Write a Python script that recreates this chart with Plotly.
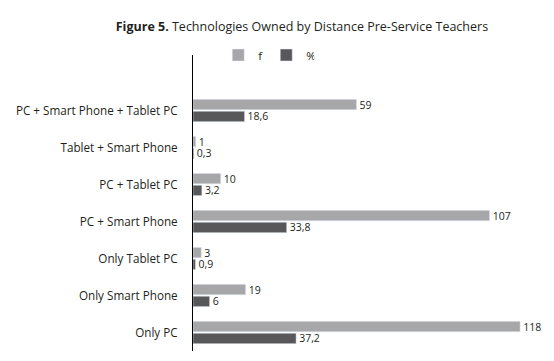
import plotly.graph_objects as go

categories = ["PC + Smart Phone + Tablet PC", "Tablet + Smart Phone", "PC + Tablet PC",
              "PC + Smart Phone", "Only Tablet PC", "Only Smart Phone", "Only PC"]
f_values = [59, 1, 10, 107, 3, 19, 118]
pct_values = [18.6, 0.3, 3.2, 33.8, 0.9, 6, 37.2]

def fmt(v):
    return str(v).replace(".", ",")

fig = go.Figure()
fig.add_trace(go.Bar(y=categories, x=f_values, orientation="h", name="f",
                     marker_color="#a7a7a9", text=[fmt(v) for v in f_values],
                     textposition="outside", cliponaxis=False, constraintext="none",
                     textfont=dict(size=10.5, color="#231f20")))
fig.add_trace(go.Bar(y=categories, x=pct_values, orientation="h", name="%",
                     marker_color="#58585a", text=[fmt(v) for v in pct_values],
                     textposition="outside", cliponaxis=False, constraintext="none",
                     textfont=dict(size=10.5, color="#231f20")))

fig.update_layout(
    width=554, height=361,
    margin=dict(l=193, r=20, t=55, b=10, autoexpand=False),
    paper_bgcolor="white", plot_bgcolor="white",
    font=dict(family="Open Sans, Noto Sans, sans-serif", color="#231f20"),
    title=dict(text="<b>Figure 5.</b> Technologies Owned by Distance Pre-Service Teachers",
               x=0.545, xanchor="center", y=0.925, yanchor="middle",
               font=dict(size=12.5, color="#231f20"), automargin=False),
    barmode="group", bargap=0.36, bargroupgap=0.12,
    showlegend=True,
    legend=dict(orientation="h", x=0.074, xanchor="left", y=1.0, yanchor="middle",
                font=dict(size=11.5), bgcolor="rgba(0,0,0,0)",
                entrywidth=3, entrywidthmode="pixels"),
    xaxis=dict(range=[0, 123], visible=False, showgrid=False, zeroline=False,
               automargin=False),
    yaxis=dict(categoryorder="array", categoryarray=categories,
               range=[6.5, -1.5], showline=True, linecolor="black", linewidth=1,
               ticks="", showgrid=False, zeroline=False, ticklabelstandoff=12,
               automargin=False,
               tickfont=dict(size=11.7, color="#231f20")),
)
fig.write_html("out.html", config={"displayModeBar": False},
               post_script="document.body.style.margin='0px';")
